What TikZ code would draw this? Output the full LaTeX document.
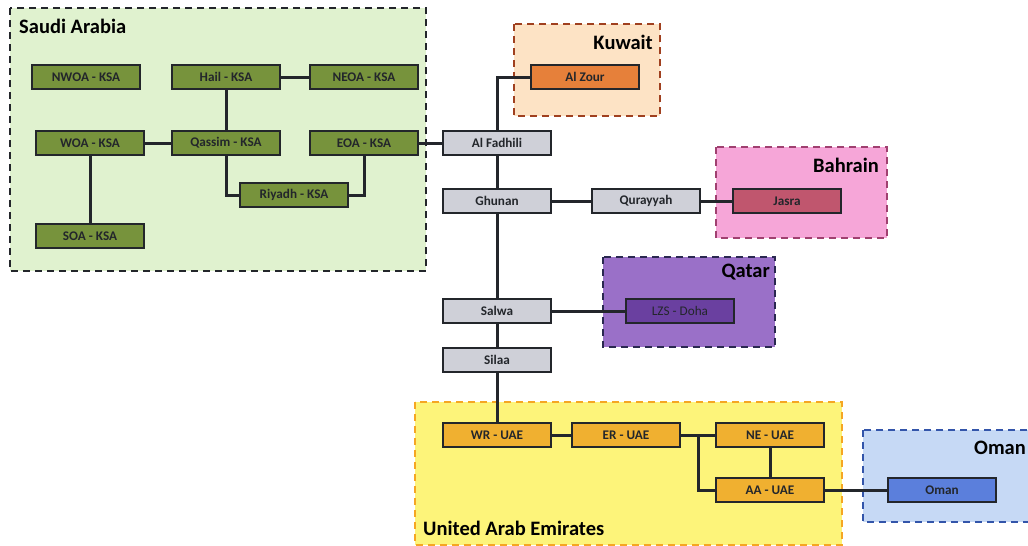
\documentclass[tikz,border=0pt]{standalone}
\usepackage{fontspec}
\setmainfont{Carlito}
\usepackage{xcolor}
\usetikzlibrary{positioning, calc}

% region and station colours
\definecolor{ksaback}{HTML}{E0F2CF}
\definecolor{ksanode}{HTML}{77933C}
\definecolor{kwback}{HTML}{FDE3C5}
\definecolor{kwline}{HTML}{A0401F}
\definecolor{kwnode}{HTML}{E6803A}
\definecolor{bhback}{HTML}{F6A6D8}
\definecolor{bhline}{HTML}{A04070}
\definecolor{bhnode}{HTML}{C0566E}
\definecolor{qaback}{HTML}{9A70C8}
\definecolor{qaline}{HTML}{2A2850}
\definecolor{qanode}{HTML}{6A40A0}
\definecolor{uaeback}{HTML}{FDF47A}
\definecolor{uaeline}{HTML}{F5A623}
\definecolor{uaenode}{HTML}{F0B030}
\definecolor{omback}{HTML}{C6D9F5}
\definecolor{omline}{HTML}{3355AA}
\definecolor{omnode}{HTML}{5B7FDC}
\definecolor{gccnode}{HTML}{CFD0D8}
\definecolor{edge}{HTML}{23262B}

\tikzset{
  station/.style={draw=edge, line width=1.5pt, minimum width=108pt, minimum height=24pt,
    inner sep=0pt, font=\bfseries\fontsize{13.2}{14}\selectfont, text=edge},
  region/.style={line width=2.3pt, dash pattern=on 7pt off 5pt},
  title/.style={font=\bfseries\fontsize{20.5}{22}\selectfont, inner sep=0pt},
  link/.style={draw=edge, line width=3pt}
}

\begin{document}
\begin{tikzpicture}[x=1pt, y=-1pt]
  \clip (0,0) rectangle (1028,546);
  \fill[white] (0,0) rectangle (1028,546);

  % Country regions
  \filldraw[region, fill=ksaback, draw=edge] (10,8) rectangle (426,271);
  \filldraw[region, fill=kwback, draw=kwline] (514,24) rectangle (660,116);
  \filldraw[region, fill=bhback, draw=bhline] (716,147) rectangle (887,238);
  \filldraw[region, fill=qaback, draw=qaline] (603,257) rectangle (775,347);
  \filldraw[region, fill=uaeback, draw=uaeline] (415,402) rectangle (842,545);
  \filldraw[region, fill=omback, draw=omline] (863,430) rectangle (1045,522);

  % Region titles
  \node[title, anchor=west] (tksa) at (19,26) {Saudi Arabia};
  \node[title, anchor=east] (tkw) at (653,42) {Kuwait};
  \node[title, anchor=east] (tbh) at (879,165) {Bahrain};
  \node[title, anchor=east] (tqa) at (770,272) {Qatar};
  \node[title, anchor=west] (tuae) at (423,528) {United Arab Emirates};
  \node[title, anchor=east] (tom) at (1026,448) {Oman};

  % Saudi Arabia
  \node[station, fill=ksanode] (nwoa) at (86,77) {NWOA - KSA};
  \node[station, fill=ksanode] (hail) at (226,77) {Hail - KSA};
  \node[station, fill=ksanode] (neoa) at (364,77) {NEOA - KSA};
  \node[station, fill=ksanode] (woa) at (90,143) {WOA - KSA};
  \node[station, fill=ksanode] (qassim) at (226,143) {Qassim - KSA};
  \node[station, fill=ksanode] (eoa) at (364,143) {EOA - KSA};
  \node[station, fill=ksanode] (riyadh) at (294,195) {Riyadh - KSA};
  \node[station, fill=ksanode] (soa) at (90,236) {SOA - KSA};

  % GCC backbone
  \node[station, fill=gccnode] (fadhili) at (497,143) {Al Fadhili};
  \node[station, fill=gccnode] (ghunan) at (497,201) {Ghunan};
  \node[station, fill=gccnode] (qurayyah) at (646,201) {Qurayyah};
  \node[station, fill=gccnode] (salwa) at (497,311) {Salwa};
  \node[station, fill=gccnode] (silaa) at (497,360) {Silaa};

  % Neighbouring grids
  \node[station, fill=kwnode] (zour) at (585,77) {Al Zour};
  \node[station, fill=bhnode] (jasra) at (787,201) {Jasra};
  \node[station, fill=qanode, font=\fontsize{13.2}{14}\selectfont] (doha) at (680,311) {LZS - Doha};
  \node[station, fill=uaenode] (wr) at (497,435) {WR - UAE};
  \node[station, fill=uaenode] (er) at (626,435) {ER - UAE};
  \node[station, fill=uaenode] (ne) at (770,435) {NE - UAE};
  \node[station, fill=uaenode] (aa) at (770,490) {AA - UAE};
  \node[station, fill=omnode] (oman) at (942,490) {Oman};

  \coordinate (split) at ($(er.east)!0.5!(ne.west)$);

  % Links inside Saudi Arabia
  \draw[link] (hail) -- (neoa);
  \draw[link] (hail) -- (qassim);
  \draw[link] (woa) -- (qassim);
  \draw[link] (woa) -- (soa);
  \draw[link] (qassim.south) |- (riyadh.west);
  \draw[link] (riyadh.east) -| (eoa.south);

  % Interconnector
  \draw[link] (eoa) -- (fadhili);
  \draw[link] (fadhili.north) |- (zour.west);
  \draw[link] (fadhili) -- (ghunan);
  \draw[link] (ghunan) -- (qurayyah);
  \draw[link] (qurayyah) -- (jasra);
  \draw[link] (ghunan) -- (salwa);
  \draw[link] (salwa) -- (doha);
  \draw[link] (salwa) -- (silaa);
  \draw[link] (silaa) -- (wr);

  % UAE and Oman
  \draw[link] (wr) -- (er);
  \draw[link] (er) -- (ne);
  \draw[link] (split) |- (aa.west);
  \draw[link] (ne) -- (aa);
  \draw[link] (aa) -- (oman);
\end{tikzpicture}
\end{document}
